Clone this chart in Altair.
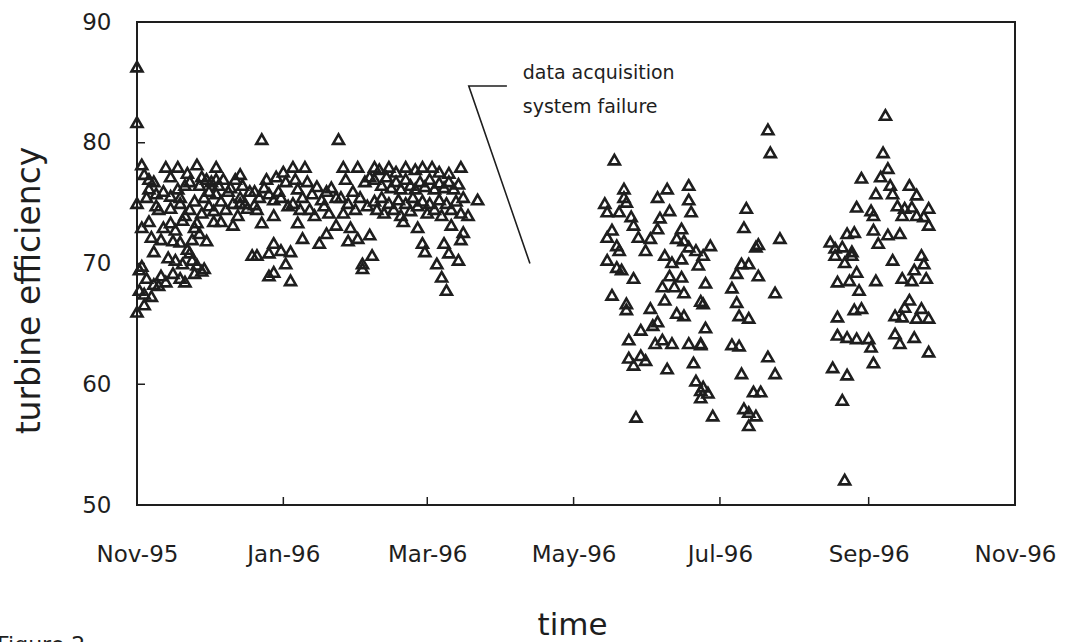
import altair as alt
import pandas as pd

# ---- data (day offset from 1 Nov 1995, turbine efficiency) ----
seg1 = [
    (0,86.3),(0,81.7),(0,75.0),(3,66.6),(0,66.0),
    (2,78.2),(12,78.0),(17,78.0),(25,78.2),(33,78.0),
    (3,77.4),(5,77.0),(14,77.2),(27,77.2),(33,77.0),(43,77.4),
    (5,76.2),(8,75.8),(11,76.0),(14,75.6),(17,76.2),(18,75.5),(30,76.0),(33,75.8),(39,76.3),(43,75.5),(47,76.0),
    (8,74.8),(14,74.6),(18,75.0),(22,74.5),(30,74.8),(32,74.4),(43,75.0),(46,74.6),(49,74.9),
    (5,73.5),(14,73.4),(19,73.6),(25,73.4),(32,73.5),
    (15,71.9),(18,71.8),(23,72.0),(29,71.9),
    (7,71.0),(48,70.7),(22,70.9),(23,70.3),(25,69.9),(28,69.6),(16,70.3),
    (1,69.5),(4,68.8),(7,68.3),(10,69.0),(12,68.5),(15,69.2),(18,68.8),(20,68.5),
    (1,67.8),(3,67.5),(6,67.3),(9,68.2),(2,69.8),
    (20,76.5),(21,77.5),(22,76.8),(24,75.2),(26,76.5),(28,75.5),(29,77.0),(31,76.8),(34,76.5),(35,75.2),
    (36,77.0),(37,74.5),(38,76.0),(40,75.0),(41,77.0),(42,74.0),(44,76.5),(45,75.0),(35,73.5),(40,73.2),
    (27,74.2),(24,73.0),(20,74.0),(11,73.0),(9,74.5),(16,72.8),(26,72.5),(21,71.2),(13,70.5),(19,70.0),
    (10,72.0),(6,72.2),(2,73.0),(4,75.5),(7,76.8),(24,69.2),(27,69.4),
    (52,80.3),(84,80.3),
    (65,78.0),(70,78.0),(86,78.0),(92,78.0),(99,78.0),(61,77.6),
    (49,76.0),(51,75.5),(53,76.3),(55,75.8),(57,75.3),(59,76.0),(60,75.5),
    (67,76.2),(69,75.5),(71,76.8),(73,75.8),(75,76.4),(77,75.3),(79,76.0),(81,76.3),(83,75.5),
    (57,74.0),(52,73.4),(67,73.4),(69,72.1),(76,71.7),(79,72.5),(83,73.2),(86,74.2),(88,71.9),(92,72.1),
    (97,72.4),(98,70.7),(94,70.0),(94,69.6),
    (57,71.7),(55,70.9),(60,71.1),(64,71.0),(62,70.0),(57,69.3),(55,69.0),(64,68.6),(50,70.7),
    (63,74.8),(65,75.0),(72,74.5),(74,74.0),(78,74.8),(80,74.2),(85,75.5),(88,75.0),(90,76.0),(91,74.5),
    (93,75.5),(95,76.8),(96,74.8),(97,77.2),(62,76.8),(66,77.0),(68,74.5),(58,77.2),(54,77.0),(50,74.5),
    (87,77.0),(89,73.0),
    (105,78.0),(112,78.0),(119,78.0),(123,78.0),(135,78.0),(101,77.8),(108,77.6),(116,77.8),(126,77.6),(130,77.5),
    (99,77.0),(102,76.5),(104,77.2),(106,76.3),(108,76.8),(110,76.2),(112,77.0),(114,76.5),(116,76.2),(118,76.8),
    (120,76.4),(122,77.0),(124,76.2),(126,76.7),(128,76.3),(130,76.8),(132,76.2),(134,76.6),
    (99,75.2),(100,74.5),(102,75.5),(103,74.2),(105,75.0),(107,74.5),(109,75.3),(110,74.0),(112,75.0),(114,74.4),
    (115,75.5),(117,74.8),(119,75.2),(121,74.2),(122,75.0),(124,74.5),(126,75.3),(127,74.0),(129,75.0),(131,74.5),
    (133,75.2),(135,74.2),(136,75.5),(138,74.0),
    (142,75.3),(117,73.0),(119,71.7),(120,71.0),(128,71.7),(130,70.9),(134,70.3),(125,70.0),(127,68.9),(129,67.8),
    (136,72.6),(135,72.0),(131,73.2),(111,73.5),
]
seg2 = [
    (199,78.6),(203,76.2),(203,75.5),(204,75.1),(221,76.2),(217,75.5),(230,76.5),(230,75.3),(231,74.3),
    (195,75.0),(196,74.3),(201,74.3),(206,73.9),(207,73.2),(209,72.2),(198,72.8),(196,72.2),(200,71.5),
    (201,71.1),(196,70.3),(200,69.7),(202,69.5),(207,68.8),
    (212,71.1),(214,72.1),(217,72.9),(218,73.8),(222,74.4),
    (227,72.9),(225,72.1),(228,71.9),(230,71.4),(233,71.1),
    (220,70.7),(223,70.1),(227,70.4),(234,69.9),
    (222,69.0),(227,68.9),(219,68.1),(224,68.1),(228,67.6),(220,67.0),
    (198,67.4),(204,66.7),(204,66.2),
    (214,66.3),(217,65.2),(215,64.9),(210,64.5),(225,65.9),(228,65.7),(235,66.9),
    (205,63.7),(216,63.4),(219,63.7),(223,63.4),(230,63.4),(235,63.4),
    (205,62.2),(207,61.6),(210,62.4),(212,62.0),(221,61.3),
    (232,61.8),(233,60.3),(235,59.5),(208,57.3),
    (239,71.5),(236,70.7),(237,68.4),(236,66.7),(237,64.7),(235,63.3),(238,59.3),(235,58.9),(240,57.4),(236,59.8),
    (263,81.1),(264,79.2),
    (254,74.6),(253,73.0),(268,72.1),
    (258,71.4),(259,71.6),(252,70.0),(255,70.0),(250,69.2),(259,69.0),
    (248,68.0),(266,67.6),(250,66.8),(251,65.7),(255,65.5),
    (248,63.3),(251,63.2),(263,62.3),(266,60.9),(252,60.9),
    (257,59.4),(260,59.4),(253,58.0),(255,57.7),(258,57.4),(255,56.6),
]
seg3 = [
    (312,82.3),(311,79.2),(313,77.9),(302,77.1),(310,77.2),(314,76.5),(308,75.8),(322,76.5),(325,75.7),(315,75.8),
    (300,74.7),(306,74.4),(307,74.0),(317,74.8),(320,74.6),(323,74.7),(325,74.0),(330,74.6),(330,73.2),(328,73.9),
    (319,74.0),
    (289,71.8),(296,72.5),(299,72.6),(291,71.3),(294,71.4),(298,71.0),(298,70.7),(295,70.1),(291,70.7),
    (307,72.8),(309,71.7),(313,72.4),(318,72.5),
    (315,70.3),(327,70.7),(324,69.5),(328,70.0),(319,68.8),(323,68.6),(329,68.8),
    (292,68.5),(297,68.6),(300,69.3),(301,67.8),(308,68.6),
    (322,67.0),(320,66.4),(327,66.3),(316,65.7),(319,65.6),(325,65.5),(330,65.5),
    (292,65.6),(299,66.2),(302,66.3),
    (292,64.1),(296,63.9),(300,63.8),(305,63.8),(306,63.1),(316,64.2),(318,63.4),(324,63.9),(330,62.7),
    (307,61.8),(290,61.4),(296,60.8),(294,58.7),(295,52.1),
]

tick_days = [0, 61, 121, 182, 243, 305, 366]
tick_labels = ["Nov-95", "Jan-96", "Mar-96", "May-96", "Jul-96", "Sep-96", "Nov-96"]
y_ticks = [50, 60, 70, 80, 90]

note_lines = ["data acquisition", "system failure"]
note_x = [160.8, 160.8]
note_y = [85.8, 83.0]
leader_x = [154.2, 138.3, 163.8]
leader_y = [84.7, 84.7, 70.0]

FONT = "DejaVu Sans"
INK = "#1e1e1e"

rows = seg1 + seg2 + seg3
df = pd.DataFrame({"day": [r[0] for r in rows], "eff": [r[1] for r in rows]})

label_expr = ("[" + ",".join(f"'{l}'" for l in tick_labels) + "][indexof(["
              + ",".join(str(d) for d in tick_days) + "], datum.value)]")

x_scale = alt.Scale(domain=[0, 366], nice=False, zero=False)
y_scale = alt.Scale(domain=[50, 90], nice=False, zero=False)

W, H = 878, 483

points = alt.Chart(df).mark_point(
    shape="triangle-up", filled=False, size=120, strokeWidth=2.6, color=INK, opacity=1
).encode(
    x=alt.X("day:Q", scale=x_scale, axis=alt.Axis(
        values=tick_days, labelExpr=label_expr, title="time", grid=False, ticks=False, domain=False,
        labelFlush=False, labelOverlap=False,
        labelFont=FONT, labelFontSize=23, labelColor=INK, labelPadding=38, labelFontWeight="normal",
        titleFont=FONT, titleFontSize=31, titleFontWeight="normal", titleColor=INK,
        titleX=435, titleY=120, titleBaseline="middle", titleAlign="center")),
    y=alt.Y("eff:Q", scale=y_scale, axis=alt.Axis(
        values=y_ticks, title="turbine efficiency", grid=False, ticks=False, domain=False,
        labelFlush=False, labelOverlap=False,
        labelFont=FONT, labelFontSize=23, labelColor=INK, labelPadding=26,
        titleFont=FONT, titleFontSize=33, titleFontWeight="normal", titleColor=INK,
        titleX=-108, titleY=268, titleAngle=270, titleAlign="center", titleBaseline="middle")),
)

xt = pd.DataFrame({"day": tick_days})
x_tick_marks = alt.Chart(xt).mark_rule(color=INK, strokeWidth=1.5).encode(
    x=alt.X("day:Q", scale=x_scale), y=alt.value(H), y2=alt.value(H - 8))

yt = pd.DataFrame({"eff": y_ticks})
y_tick_marks = alt.Chart(yt).mark_rule(color=INK, strokeWidth=1.5).encode(
    y=alt.Y("eff:Q", scale=y_scale), x=alt.value(0), x2=alt.value(8))

ld = pd.DataFrame({"day": leader_x, "eff": leader_y, "o": [0, 1, 2]})
leader = alt.Chart(ld).mark_line(color=INK, strokeWidth=1.6).encode(
    x=alt.X("day:Q", scale=x_scale), y=alt.Y("eff:Q", scale=y_scale), order="o:O")

nd = pd.DataFrame({"day": note_x, "eff": note_y, "t": note_lines})
notes = alt.Chart(nd).mark_text(
    align="left", baseline="middle", font=FONT, fontSize=19, color=INK
).encode(x=alt.X("day:Q", scale=x_scale), y=alt.Y("eff:Q", scale=y_scale), text="t:N")

fig = alt.Chart(pd.DataFrame({"t": ["Figure 2"]})).mark_text(
    align="left", baseline="alphabetic", font=FONT, fontSize=22, color=INK
).encode(x=alt.value(-140), y=alt.value(630), text="t:N")

chart = alt.layer(points, x_tick_marks, y_tick_marks, leader, notes, fig).properties(
    width=W, height=H,
    autosize=alt.AutoSizeParams(type="none"),
    padding={"left": 137, "top": 22, "right": 53, "bottom": 137},
    background="white",
).configure_view(stroke=INK, strokeWidth=2)

chart.save("out.html", embed_options={"renderer": "svg", "actions": False})
